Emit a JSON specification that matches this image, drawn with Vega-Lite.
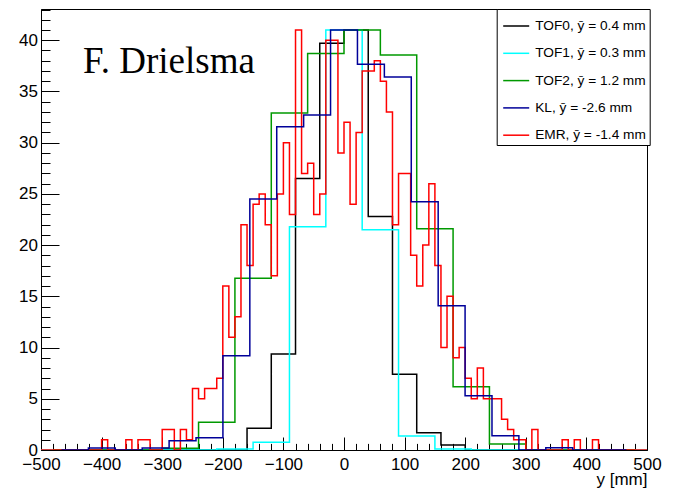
{
  "$schema": "https://vega.github.io/schema/vega-lite/v6.json",
  "width": 606,
  "height": 441,
  "autosize": "none",
  "padding": {"left": 41, "top": 9, "right": 26, "bottom": 39},
  "background": "#ffffff",
  "config": {"view": {"stroke": "#000000", "strokeWidth": 1}, "font": "Liberation Sans"},
  "datasets": {
    "hist": [
      {"det": "TOF0, ȳ = 0.4 mm", "pos": -480, "count": 0},
      {"det": "TOF0, ȳ = 0.4 mm", "pos": -440, "count": 0},
      {"det": "TOF0, ȳ = 0.4 mm", "pos": -400, "count": 0},
      {"det": "TOF0, ȳ = 0.4 mm", "pos": -360, "count": 0},
      {"det": "TOF0, ȳ = 0.4 mm", "pos": -320, "count": 0},
      {"det": "TOF0, ȳ = 0.4 mm", "pos": -280, "count": 0},
      {"det": "TOF0, ȳ = 0.4 mm", "pos": -240, "count": 0},
      {"det": "TOF0, ȳ = 0.4 mm", "pos": -200, "count": 0},
      {"det": "TOF0, ȳ = 0.4 mm", "pos": -160, "count": 2.12},
      {"det": "TOF0, ȳ = 0.4 mm", "pos": -120, "count": 9.37},
      {"det": "TOF0, ȳ = 0.4 mm", "pos": -80, "count": 26.5},
      {"det": "TOF0, ȳ = 0.4 mm", "pos": -40, "count": 39.7},
      {"det": "TOF0, ȳ = 0.4 mm", "pos": 0, "count": 41},
      {"det": "TOF0, ȳ = 0.4 mm", "pos": 40, "count": 22.8},
      {"det": "TOF0, ȳ = 0.4 mm", "pos": 80, "count": 7.4},
      {"det": "TOF0, ȳ = 0.4 mm", "pos": 120, "count": 1.69},
      {"det": "TOF0, ȳ = 0.4 mm", "pos": 160, "count": 0.49},
      {"det": "TOF0, ȳ = 0.4 mm", "pos": 200, "count": 0},
      {"det": "TOF0, ȳ = 0.4 mm", "pos": 240, "count": 0},
      {"det": "TOF0, ȳ = 0.4 mm", "pos": 280, "count": 0},
      {"det": "TOF0, ȳ = 0.4 mm", "pos": 320, "count": 0},
      {"det": "TOF0, ȳ = 0.4 mm", "pos": 360, "count": 0},
      {"det": "TOF0, ȳ = 0.4 mm", "pos": 400, "count": 0},
      {"det": "TOF0, ȳ = 0.4 mm", "pos": 440, "count": 0},
      {"det": "TOF0, ȳ = 0.4 mm", "pos": 480, "count": 0},

      {"det": "TOF1, ȳ = 0.3 mm", "pos": -510, "count": 0},
      {"det": "TOF1, ȳ = 0.3 mm", "pos": -450, "count": 0},
      {"det": "TOF1, ȳ = 0.3 mm", "pos": -390, "count": 0},
      {"det": "TOF1, ȳ = 0.3 mm", "pos": -330, "count": 0},
      {"det": "TOF1, ȳ = 0.3 mm", "pos": -270, "count": 0},
      {"det": "TOF1, ȳ = 0.3 mm", "pos": -210, "count": 0.1},
      {"det": "TOF1, ȳ = 0.3 mm", "pos": -150, "count": 0.75},
      {"det": "TOF1, ȳ = 0.3 mm", "pos": -90, "count": 21.8},
      {"det": "TOF1, ȳ = 0.3 mm", "pos": -30, "count": 41},
      {"det": "TOF1, ȳ = 0.3 mm", "pos": 30, "count": 21.5},
      {"det": "TOF1, ȳ = 0.3 mm", "pos": 90, "count": 1.37},
      {"det": "TOF1, ȳ = 0.3 mm", "pos": 150, "count": 0.1},
      {"det": "TOF1, ȳ = 0.3 mm", "pos": 210, "count": 0},
      {"det": "TOF1, ȳ = 0.3 mm", "pos": 270, "count": 0},
      {"det": "TOF1, ȳ = 0.3 mm", "pos": 330, "count": 0},
      {"det": "TOF1, ȳ = 0.3 mm", "pos": 390, "count": 0},
      {"det": "TOF1, ȳ = 0.3 mm", "pos": 450, "count": 0},
      {"det": "TOF1, ȳ = 0.3 mm", "pos": 510, "count": 0},

      {"det": "TOF2, ȳ = 1.2 mm", "pos": -480, "count": 0},
      {"det": "TOF2, ȳ = 1.2 mm", "pos": -420, "count": 0},
      {"det": "TOF2, ȳ = 1.2 mm", "pos": -360, "count": 0},
      {"det": "TOF2, ȳ = 1.2 mm", "pos": -300, "count": 0.17},
      {"det": "TOF2, ȳ = 1.2 mm", "pos": -240, "count": 2.7},
      {"det": "TOF2, ȳ = 1.2 mm", "pos": -180, "count": 16.76},
      {"det": "TOF2, ȳ = 1.2 mm", "pos": -120, "count": 32.9},
      {"det": "TOF2, ȳ = 1.2 mm", "pos": -60, "count": 38.7},
      {"det": "TOF2, ȳ = 1.2 mm", "pos": 0, "count": 41},
      {"det": "TOF2, ȳ = 1.2 mm", "pos": 60, "count": 38.56},
      {"det": "TOF2, ȳ = 1.2 mm", "pos": 120, "count": 21.6},
      {"det": "TOF2, ȳ = 1.2 mm", "pos": 180, "count": 6.18},
      {"det": "TOF2, ȳ = 1.2 mm", "pos": 240, "count": 0.59},
      {"det": "TOF2, ȳ = 1.2 mm", "pos": 300, "count": 0},
      {"det": "TOF2, ȳ = 1.2 mm", "pos": 360, "count": 0},
      {"det": "TOF2, ȳ = 1.2 mm", "pos": 420, "count": 0},
      {"det": "TOF2, ȳ = 1.2 mm", "pos": 480, "count": 0},

      {"det": "EMR, ȳ = -1.4 mm", "pos": -500, "count": 0},
      {"det": "EMR, ȳ = -1.4 mm", "pos": -490, "count": 0},
      {"det": "EMR, ȳ = -1.4 mm", "pos": -480, "count": 0},
      {"det": "EMR, ȳ = -1.4 mm", "pos": -470, "count": 0},
      {"det": "EMR, ȳ = -1.4 mm", "pos": -460, "count": 0},
      {"det": "EMR, ȳ = -1.4 mm", "pos": -450, "count": 0},
      {"det": "EMR, ȳ = -1.4 mm", "pos": -440, "count": 0},
      {"det": "EMR, ȳ = -1.4 mm", "pos": -430, "count": 0},
      {"det": "EMR, ȳ = -1.4 mm", "pos": -420, "count": 0},
      {"det": "EMR, ȳ = -1.4 mm", "pos": -410, "count": 0},
      {"det": "EMR, ȳ = -1.4 mm", "pos": -400, "count": 1},
      {"det": "EMR, ȳ = -1.4 mm", "pos": -390, "count": 0},
      {"det": "EMR, ȳ = -1.4 mm", "pos": -380, "count": 0},
      {"det": "EMR, ȳ = -1.4 mm", "pos": -370, "count": 0},
      {"det": "EMR, ȳ = -1.4 mm", "pos": -360, "count": 1},
      {"det": "EMR, ȳ = -1.4 mm", "pos": -350, "count": 0},
      {"det": "EMR, ȳ = -1.4 mm", "pos": -340, "count": 1},
      {"det": "EMR, ȳ = -1.4 mm", "pos": -330, "count": 1},
      {"det": "EMR, ȳ = -1.4 mm", "pos": -320, "count": 0},
      {"det": "EMR, ȳ = -1.4 mm", "pos": -310, "count": 0},
      {"det": "EMR, ȳ = -1.4 mm", "pos": -300, "count": 2},
      {"det": "EMR, ȳ = -1.4 mm", "pos": -290, "count": 2},
      {"det": "EMR, ȳ = -1.4 mm", "pos": -280, "count": 0},
      {"det": "EMR, ȳ = -1.4 mm", "pos": -270, "count": 2},
      {"det": "EMR, ȳ = -1.4 mm", "pos": -260, "count": 1},
      {"det": "EMR, ȳ = -1.4 mm", "pos": -250, "count": 6},
      {"det": "EMR, ȳ = -1.4 mm", "pos": -240, "count": 5},
      {"det": "EMR, ȳ = -1.4 mm", "pos": -230, "count": 6},
      {"det": "EMR, ȳ = -1.4 mm", "pos": -220, "count": 6},
      {"det": "EMR, ȳ = -1.4 mm", "pos": -210, "count": 7},
      {"det": "EMR, ȳ = -1.4 mm", "pos": -200, "count": 16},
      {"det": "EMR, ȳ = -1.4 mm", "pos": -190, "count": 11},
      {"det": "EMR, ȳ = -1.4 mm", "pos": -180, "count": 13},
      {"det": "EMR, ȳ = -1.4 mm", "pos": -170, "count": 22},
      {"det": "EMR, ȳ = -1.4 mm", "pos": -160, "count": 18},
      {"det": "EMR, ȳ = -1.4 mm", "pos": -150, "count": 24},
      {"det": "EMR, ȳ = -1.4 mm", "pos": -140, "count": 25},
      {"det": "EMR, ȳ = -1.4 mm", "pos": -130, "count": 22},
      {"det": "EMR, ȳ = -1.4 mm", "pos": -120, "count": 17},
      {"det": "EMR, ȳ = -1.4 mm", "pos": -110, "count": 25},
      {"det": "EMR, ȳ = -1.4 mm", "pos": -100, "count": 30},
      {"det": "EMR, ȳ = -1.4 mm", "pos": -90, "count": 23},
      {"det": "EMR, ȳ = -1.4 mm", "pos": -80, "count": 41},
      {"det": "EMR, ȳ = -1.4 mm", "pos": -70, "count": 27},
      {"det": "EMR, ȳ = -1.4 mm", "pos": -60, "count": 28},
      {"det": "EMR, ȳ = -1.4 mm", "pos": -50, "count": 23},
      {"det": "EMR, ȳ = -1.4 mm", "pos": -40, "count": 25},
      {"det": "EMR, ȳ = -1.4 mm", "pos": -30, "count": 40},
      {"det": "EMR, ȳ = -1.4 mm", "pos": -20, "count": 40},
      {"det": "EMR, ȳ = -1.4 mm", "pos": -10, "count": 29},
      {"det": "EMR, ȳ = -1.4 mm", "pos": 0, "count": 32},
      {"det": "EMR, ȳ = -1.4 mm", "pos": 10, "count": 24},
      {"det": "EMR, ȳ = -1.4 mm", "pos": 20, "count": 31},
      {"det": "EMR, ȳ = -1.4 mm", "pos": 30, "count": 37},
      {"det": "EMR, ȳ = -1.4 mm", "pos": 40, "count": 37},
      {"det": "EMR, ȳ = -1.4 mm", "pos": 50, "count": 38},
      {"det": "EMR, ȳ = -1.4 mm", "pos": 60, "count": 36},
      {"det": "EMR, ȳ = -1.4 mm", "pos": 70, "count": 33},
      {"det": "EMR, ȳ = -1.4 mm", "pos": 80, "count": 22},
      {"det": "EMR, ȳ = -1.4 mm", "pos": 90, "count": 27},
      {"det": "EMR, ȳ = -1.4 mm", "pos": 100, "count": 27},
      {"det": "EMR, ȳ = -1.4 mm", "pos": 110, "count": 19},
      {"det": "EMR, ȳ = -1.4 mm", "pos": 120, "count": 16},
      {"det": "EMR, ȳ = -1.4 mm", "pos": 130, "count": 20},
      {"det": "EMR, ȳ = -1.4 mm", "pos": 140, "count": 26},
      {"det": "EMR, ȳ = -1.4 mm", "pos": 150, "count": 18},
      {"det": "EMR, ȳ = -1.4 mm", "pos": 160, "count": 10},
      {"det": "EMR, ȳ = -1.4 mm", "pos": 170, "count": 15},
      {"det": "EMR, ȳ = -1.4 mm", "pos": 180, "count": 9},
      {"det": "EMR, ȳ = -1.4 mm", "pos": 190, "count": 10},
      {"det": "EMR, ȳ = -1.4 mm", "pos": 200, "count": 7},
      {"det": "EMR, ȳ = -1.4 mm", "pos": 210, "count": 5},
      {"det": "EMR, ȳ = -1.4 mm", "pos": 220, "count": 8},
      {"det": "EMR, ȳ = -1.4 mm", "pos": 230, "count": 5},
      {"det": "EMR, ȳ = -1.4 mm", "pos": 240, "count": 5},
      {"det": "EMR, ȳ = -1.4 mm", "pos": 250, "count": 5},
      {"det": "EMR, ȳ = -1.4 mm", "pos": 260, "count": 3},
      {"det": "EMR, ȳ = -1.4 mm", "pos": 270, "count": 2},
      {"det": "EMR, ȳ = -1.4 mm", "pos": 280, "count": 1},
      {"det": "EMR, ȳ = -1.4 mm", "pos": 290, "count": 1},
      {"det": "EMR, ȳ = -1.4 mm", "pos": 300, "count": 0},
      {"det": "EMR, ȳ = -1.4 mm", "pos": 310, "count": 2},
      {"det": "EMR, ȳ = -1.4 mm", "pos": 320, "count": 0},
      {"det": "EMR, ȳ = -1.4 mm", "pos": 330, "count": 0},
      {"det": "EMR, ȳ = -1.4 mm", "pos": 340, "count": 0},
      {"det": "EMR, ȳ = -1.4 mm", "pos": 350, "count": 0},
      {"det": "EMR, ȳ = -1.4 mm", "pos": 360, "count": 1},
      {"det": "EMR, ȳ = -1.4 mm", "pos": 370, "count": 0},
      {"det": "EMR, ȳ = -1.4 mm", "pos": 380, "count": 1},
      {"det": "EMR, ȳ = -1.4 mm", "pos": 390, "count": 0},
      {"det": "EMR, ȳ = -1.4 mm", "pos": 400, "count": 0},
      {"det": "EMR, ȳ = -1.4 mm", "pos": 410, "count": 1},
      {"det": "EMR, ȳ = -1.4 mm", "pos": 420, "count": 0},
      {"det": "EMR, ȳ = -1.4 mm", "pos": 430, "count": 0},
      {"det": "EMR, ȳ = -1.4 mm", "pos": 440, "count": 0},
      {"det": "EMR, ȳ = -1.4 mm", "pos": 450, "count": 0},
      {"det": "EMR, ȳ = -1.4 mm", "pos": 460, "count": 0},
      {"det": "EMR, ȳ = -1.4 mm", "pos": 470, "count": 0},
      {"det": "EMR, ȳ = -1.4 mm", "pos": 480, "count": 0},
      {"det": "EMR, ȳ = -1.4 mm", "pos": 490, "count": 0},
      {"det": "EMR, ȳ = -1.4 mm", "pos": 500, "count": 0},

      {"det": "KL, ȳ = -2.6 mm", "pos": -466.2, "count": 0},
      {"det": "KL, ȳ = -2.6 mm", "pos": -421.8, "count": 0.2},
      {"det": "KL, ȳ = -2.6 mm", "pos": -377.4, "count": 0},
      {"det": "KL, ȳ = -2.6 mm", "pos": -333, "count": 0.2},
      {"det": "KL, ȳ = -2.6 mm", "pos": -288.6, "count": 0.91},
      {"det": "KL, ȳ = -2.6 mm", "pos": -244.2, "count": 1.2},
      {"det": "KL, ȳ = -2.6 mm", "pos": -199.8, "count": 9.2},
      {"det": "KL, ȳ = -2.6 mm", "pos": -155.4, "count": 24.5},
      {"det": "KL, ȳ = -2.6 mm", "pos": -111, "count": 31.55},
      {"det": "KL, ȳ = -2.6 mm", "pos": -66.6, "count": 32.7},
      {"det": "KL, ȳ = -2.6 mm", "pos": -22.2, "count": 41},
      {"det": "KL, ȳ = -2.6 mm", "pos": 22.2, "count": 37.65},
      {"det": "KL, ȳ = -2.6 mm", "pos": 66.6, "count": 36.4},
      {"det": "KL, ȳ = -2.6 mm", "pos": 111, "count": 24.24},
      {"det": "KL, ȳ = -2.6 mm", "pos": 155.4, "count": 14.09},
      {"det": "KL, ȳ = -2.6 mm", "pos": 199.8, "count": 5.3},
      {"det": "KL, ȳ = -2.6 mm", "pos": 244.2, "count": 1.4},
      {"det": "KL, ȳ = -2.6 mm", "pos": 288.6, "count": 0},
      {"det": "KL, ȳ = -2.6 mm", "pos": 333, "count": 0.22},
      {"det": "KL, ȳ = -2.6 mm", "pos": 377.4, "count": 0},
      {"det": "KL, ȳ = -2.6 mm", "pos": 421.8, "count": 0},
      {"det": "KL, ȳ = -2.6 mm", "pos": 466.2, "count": 0}
    ],
    "note": [
      {"text": "F. Drielsma"}
    ]
  },
  "layer": [
    {
      "data": {"name": "hist"},
      "mark": {"type": "line", "interpolate": "step-after", "strokeWidth": 1.5, "clip": true},
      "encoding": {
        "x": {
          "field": "pos", "type": "quantitative",
          "scale": {"domain": [-500, 500], "nice": false, "zero": false},
          "axis": {
            "orient": "bottom",
            "values": [-500, -400, -300, -200, -100, 0, 100, 200, 300, 400, 500],
            "tickSize": -13, "tickColor": "#000000", "tickWidth": 1,
            "domainColor": "#000000", "grid": false,
            "labelFont": "Liberation Sans", "labelFontSize": 17, "labelColor": "#000000",
            "labelPadding": 27, "labelBaseline": "middle", "labelFlush": false, "labelOverlap": false,
            "title": "y [mm]", "titleFont": "Liberation Sans", "titleFontSize": 17, "titleFontWeight": "normal",
            "titleColor": "#000000", "titleAnchor": "end", "titleAlign": "right", "titleBaseline": "alphabetic",
            "titleX": 606, "titleY": 34
          }
        },
        "y": {
          "field": "count", "type": "quantitative",
          "scale": {"domain": [0, 43.05], "nice": false, "zero": false},
          "axis": {
            "orient": "left",
            "values": [0, 5, 10, 15, 20, 25, 30, 35, 40],
            "tickSize": -18, "tickColor": "#000000", "tickWidth": 1,
            "domainColor": "#000000", "grid": false,
            "labelFont": "Liberation Sans", "labelFontSize": 17, "labelColor": "#000000",
            "labelPadding": 21.5, "labelBaseline": "middle", "labelAlign": "right", "labelFlush": false, "labelOverlap": false,
            "title": null
          }
        },
        "color": {
          "field": "det", "type": "nominal",
          "scale": {
            "domain": ["TOF0, ȳ = 0.4 mm", "TOF1, ȳ = 0.3 mm", "TOF2, ȳ = 1.2 mm", "KL, ȳ = -2.6 mm", "EMR, ȳ = -1.4 mm"],
            "range": ["#000000", "#00ffff", "#009900", "#000099", "#ff0000"]
          },
          "legend": {
            "orient": "none", "legendX": 455.7, "legendY": 0,
            "title": null, "symbolType": "stroke", "symbolSize": 676, "symbolStrokeWidth": 1.5,
            "labelFont": "Liberation Sans", "labelFontSize": 13.7, "labelColor": "#000000",
            "labelOffset": 5, "symbolOffset": 2.5, "padding": 3, "rowPadding": 6.3,
            "strokeColor": "#000000", "fillColor": "#ffffff", "cornerRadius": 0
          }
        }
      }
    },
    {
      "data": {"name": "hist"},
      "mark": {"type": "line", "opacity": 0},
      "encoding": {
        "x": {
          "field": "pos", "type": "quantitative",
          "axis": {
            "orient": "bottom",
            "values": [-480, -460, -440, -420, -380, -360, -340, -320, -280, -260, -240, -220, -180, -160, -140, -120, -80, -60, -40, -20, 20, 40, 60, 80, 120, 140, 160, 180, 220, 240, 260, 280, 320, 340, 360, 380, 420, 440, 460, 480],
            "tickSize": -6.6, "tickColor": "#000000", "tickWidth": 1,
            "domain": false, "labels": false, "grid": false, "title": null
          }
        },
        "y": {
          "field": "count", "type": "quantitative",
          "axis": {
            "orient": "left",
            "values": [1, 2, 3, 4, 6, 7, 8, 9, 11, 12, 13, 14, 16, 17, 18, 19, 21, 22, 23, 24, 26, 27, 28, 29, 31, 32, 33, 34, 36, 37, 38, 39, 41, 42, 43],
            "tickSize": -9, "tickColor": "#000000", "tickWidth": 1,
            "domain": false, "labels": false, "grid": false, "title": null
          }
        }
      }
    },
    {
      "data": {"name": "note"},
      "mark": {"type": "text", "font": "Liberation Serif", "fontSize": 37, "color": "#000000", "align": "left", "baseline": "alphabetic"},
      "encoding": {
        "x": {"datum": -430.5, "axis": null},
        "y": {"datum": 36.77, "axis": null},
        "text": {"field": "text", "type": "nominal"}
      }
    }
  ],
  "resolve": {"axis": {"x": "independent", "y": "independent"}}
}
